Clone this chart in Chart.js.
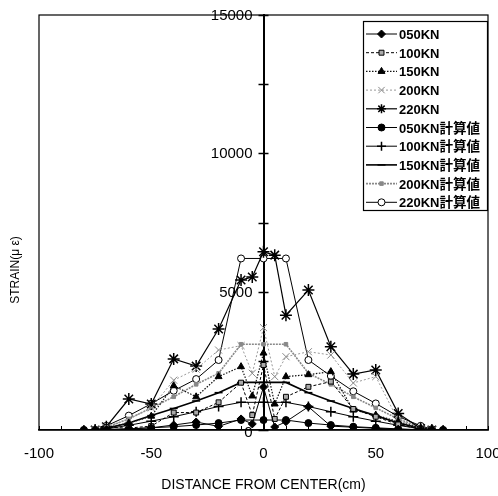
<!DOCTYPE html>
<html><head><meta charset="utf-8">
<script src="https://cdn.jsdelivr.net/npm/chart.js@4/dist/chart.umd.min.js"></script>
<style>html,body{margin:0;padding:0;background:#fff}</style>
</head><body>
<canvas id="c" width="498" height="496" style="width:498px;height:496px;display:block"></canvas>
<script>
// ---- data ----
const measuredX = [-75, -70, -60, -50, -40, -30, -20, -10, -5, 0, 5, 10, 20, 30, 40, 50, 60, 70, 75];
const calcX     = [-80, -75, -70, -60, -50, -40, -30, -20, -10, 0, 10, 20, 30, 40, 50, 60, 70, 75, 80];

const kn050 = [0, 20, 40, 80, 180, 290, 130, 400, 220, 1550, 110, 300, 840, 140, 100, 60, 30, 0, 0];
const kn100 = [0, 100, 70, 140, 630, 630, 1000, 1710, 540, 2350, 400, 1200, 1560, 1750, 760, 480, 200, 30, 0];
const kn150 = [0, 80, 250, 500, 1600, 1200, 1930, 2290, 1230, 2780, 940, 1930, 2000, 2110, 720, 540, 300, 70, 0];
const kn200 = [0, 100, 400, 800, 1800, 2200, 2890, 3050, 2050, 3700, 1930, 2650, 2830, 2710, 1700, 1930, 350, 50, 0];
const kn220 = [0, 120, 1120, 940, 2570, 2310, 3650, 5420, 5530, 6440, 6320, 4150, 5060, 3010, 2020, 2170, 600, 50, 0];

const calc050 = [0, 0, 10, 40, 80, 120, 180, 250, 360, 360, 360, 250, 180, 120, 80, 40, 10, 0, 0];
const calc100 = [0, 0, 40, 170, 320, 480, 660, 850, 1000, 1000, 1000, 850, 660, 480, 320, 170, 40, 0, 0];
const calc150 = [0, 0, 60, 250, 520, 780, 1050, 1350, 1720, 1720, 1720, 1350, 1050, 780, 520, 250, 60, 0, 0];
const calc200 = [0, 0, 100, 400, 800, 1200, 1650, 2050, 3100, 3100, 3100, 2050, 1650, 1200, 800, 400, 100, 0, 0];
const calc220 = [0, 0, 150, 520, 950, 1420, 1840, 2530, 6200, 6200, 6200, 2530, 1950, 1400, 960, 490, 150, 30, 0];

const seriesNames = ['050KN', '100KN', '150KN', '200KN', '220KN',
  '050KN計算値', '100KN計算値', '150KN計算値', '200KN計算値', '220KN計算値'];
const xTickLabels = [-100, -50, 0, 50, 100];
const yTickLabels = [0, 5000, 10000, 15000];
const xTitle = 'DISTANCE FROM CENTER(cm)';
const yTitle = 'STRAIN(μ ε)';

// ---- build ----
const FONT = "'Liberation Sans', Arial, sans-serif";
const CJK = "'Noto Sans CJK JP', sans-serif";
const pts = (xs, ys) => xs.map((x, i) => ({x: x, y: ys[i]}));

const styles = [
  {xs: measuredX, ys: kn050, color: '#000', width: 1, dash: [], ps: 'rectRot', r: 4, fill: '#000', pc: '#000'},
  {xs: measuredX, ys: kn100, color: '#000', width: 1, dash: [3, 2], ps: 'rect', r: 3.5, fill: '#aaa', pc: '#000'},
  {xs: measuredX, ys: kn150, color: '#111', width: 1.2, dash: [1.5, 1.5], ps: 'triangle', r: 4, fill: '#000', pc: '#000'},
  {xs: measuredX, ys: kn200, color: '#999', width: 1, dash: [2, 2], ps: 'crossRot', r: 5, fill: '#999', pc: '#888'},
  {xs: measuredX, ys: kn220, color: '#000', width: 1.2, dash: [], ps: 'star', r: 6, fill: '#000', pc: '#000'},
  {xs: calcX, ys: calc050, color: '#000', width: 1, dash: [], ps: 'circle', r: 3.5, fill: '#000', pc: '#000'},
  {xs: calcX, ys: calc100, color: '#000', width: 1, dash: [], ps: 'cross', r: 5, fill: '#000', pc: '#000'},
  {xs: calcX, ys: calc150, color: '#000', width: 1.6, dash: [], ps: 'line', r: 4, fill: '#000', pc: '#000'},
  {xs: calcX, ys: calc200, color: '#888', width: 1.6, dash: [2, 1], ps: 'rect', r: 2.5, fill: '#888', pc: '#888'},
  {xs: calcX, ys: calc220, color: '#000', width: 1, dash: [], ps: 'circle', r: 3.5, fill: '#fff', pc: '#000'}
];

const datasets = styles.map((s, i) => ({
  label: seriesNames[i],
  data: pts(s.xs, s.ys),
  showLine: true,
  borderColor: s.color,
  borderWidth: s.width,
  borderDash: s.dash,
  pointStyle: s.ps,
  pointRadius: s.r,
  pointBackgroundColor: s.fill,
  pointBorderColor: s.pc,
  pointBorderWidth: s.ps === 'star' || s.ps === 'line' || s.ps === 'cross' ? 1.5 : 1,
  tension: 0,
  fill: false
}));

const decor = {
  id: 'decor',
  afterDraw(chart) {
    const ctx = chart.ctx, a = chart.chartArea;
    const xs = chart.scales.x, ys = chart.scales.y;
    ctx.save();
    // frame
    ctx.strokeStyle = '#000'; ctx.lineWidth = 1.2; ctx.setLineDash([]);
    ctx.strokeRect(a.left, a.top, a.right - a.left, a.bottom - a.top);
    // x minor ticks
    ctx.lineWidth = 1;
    for (let v = -100; v <= 100; v += 10) {
      const px = Math.round(xs.getPixelForValue(v)) + 0.5;
      ctx.beginPath(); ctx.moveTo(px, a.bottom); ctx.lineTo(px, a.bottom - 4); ctx.stroke();
    }
    // y ticks on center axis + labels
    const cx = xs.getPixelForValue(0);
    ctx.lineWidth = 1.5;
    for (let v = 0; v <= 15000; v += 2500) {
      const py = Math.round(ys.getPixelForValue(v)) + 0.5;
      ctx.beginPath(); ctx.moveTo(cx - 5, py); ctx.lineTo(cx + 5, py); ctx.stroke();
    }
    ctx.fillStyle = '#000';
    ctx.font = '15px ' + FONT;
    ctx.textAlign = 'right'; ctx.textBaseline = 'middle';
    yTickLabels.forEach(v => {
      const py = ys.getPixelForValue(v);
      ctx.fillText(String(v), cx - 11, v === 0 ? py + 3 : py + 1);
    });
    // y title
    ctx.font = '12px ' + FONT;
    ctx.textAlign = 'center'; ctx.textBaseline = 'middle';
    ctx.translate(16, 270); ctx.rotate(-Math.PI / 2);
    ctx.fillText(yTitle, 0, 0);
    ctx.restore();

    // legend
    ctx.save();
    const L = 363, T = 21, W = 124, H = 189, rowH = 18.7, y0 = 34;
    ctx.fillStyle = '#fff';
    ctx.fillRect(L, T, W, H);
    ctx.strokeStyle = '#000'; ctx.lineWidth = 1.2; ctx.setLineDash([]);
    ctx.strokeRect(L + 0.5, T + 0.5, W, H);
    chart.data.datasets.forEach((ds, i) => {
      const yy = y0 + i * rowH;
      const s = styles[i];
      ctx.strokeStyle = s.color; ctx.lineWidth = s.width; ctx.setLineDash(s.dash);
      ctx.beginPath(); ctx.moveTo(L + 3, yy); ctx.lineTo(L + 34, yy); ctx.stroke();
      ctx.setLineDash([]);
      ctx.fillStyle = s.fill; ctx.strokeStyle = s.pc; ctx.lineWidth = ds.pointBorderWidth;
      Chart.helpers.drawPoint(ctx, {pointStyle: s.ps, radius: Math.min(s.r, 4.5), rotation: 0, borderWidth: ds.pointBorderWidth}, L + 18.5, yy);
      ctx.fillStyle = '#000';
      ctx.textAlign = 'left'; ctx.textBaseline = 'alphabetic';
      const latin = ds.label.replace('計算値', '');
      const cjk = ds.label.length > latin.length ? '計算値' : '';
      ctx.font = 'bold 13px ' + FONT;
      ctx.fillText(latin, L + 36, yy + 5);
      if (cjk) {
        const w = ctx.measureText(latin).width;
        ctx.font = 'bold 13.5px ' + CJK;
        ctx.fillText(cjk, L + 36 + w, yy + 5);
      }
    });
    ctx.restore();
  }
};

const chart = new Chart(document.getElementById('c'), {
  type: 'scatter',
  data: {datasets: datasets},
  options: {
    responsive: false, animation: false, devicePixelRatio: 1,
    layout: {padding: {left: 39, right: 10, top: 15, bottom: 0}},
    plugins: {legend: {display: false}, tooltip: {enabled: false}},
    scales: {
      x: {
        type: 'linear', min: -100, max: 100, position: 'bottom',
        grid: {display: false, drawTicks: false},
        border: {display: true, color: '#000', width: 1.5},
        afterBuildTicks: s => { s.ticks = xTickLabels.map(v => ({value: v})); },
        ticks: {color: '#000', font: {family: FONT, size: 15}, padding: 15, maxRotation: 0, autoSkip: false,
                callback: v => String(v)},
        title: {display: true, text: xTitle, color: '#000', font: {family: FONT, size: 14}, padding: {top: 4, bottom: 2}},
        afterFit: s => { s.height = 66; s.paddingLeft = 0; s.paddingRight = 0; }
      },
      y: {
        type: 'linear', min: 0, max: 15000, position: {x: 0},
        grid: {display: false, drawTicks: false},
        border: {display: true, color: '#000', width: 2},
        afterBuildTicks: s => { s.ticks = yTickLabels.map(v => ({value: v})); },
        ticks: {display: false},
        afterFit: s => { s.width = 0; s.paddingTop = 0; s.paddingBottom = 0; }
      }
    }
  },
  plugins: [decor]
});

// adjust padding so the plot frame lands where the reference has it
const target = {left: 39, right: 488, top: 15, bottom: 430};
for (let k = 0; k < 3; k++) {
  const a = chart.chartArea, p = chart.options.layout.padding;
  const np = {
    left: p.left + (target.left - a.left),
    right: p.right + (a.right - target.right),
    top: p.top + (target.top - a.top),
    bottom: p.bottom + (a.bottom - target.bottom)
  };
  if (Math.abs(np.left - p.left) + Math.abs(np.right - p.right) + Math.abs(np.top - p.top) + Math.abs(np.bottom - p.bottom) < 0.5) break;
  chart.options.layout.padding = np;
  chart.update();
}
</script>
</body></html>
